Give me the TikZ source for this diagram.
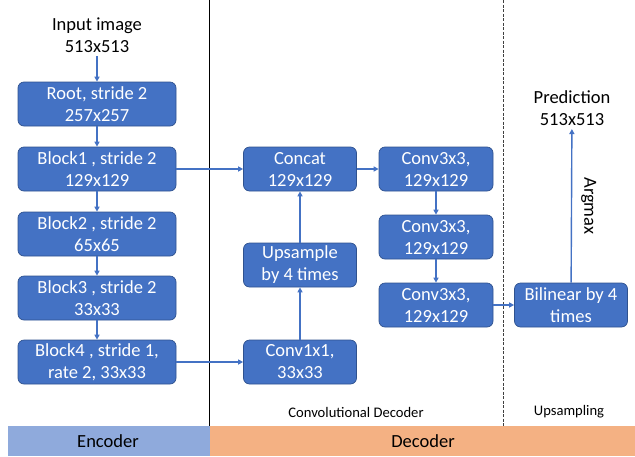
\documentclass[tikz,border=0pt]{standalone}
\usepackage{fontspec}
\setmainfont{Carlito}
\usetikzlibrary{arrows.meta}
\definecolor{boxblue}{HTML}{4472C4}
\definecolor{boxedge}{HTML}{2F528F}
\definecolor{enccol}{HTML}{8FAADC}
\definecolor{deccol}{HTML}{F4B183}
\begin{document}
\begin{tikzpicture}[x=1pt, y=-1pt,
    blk/.style={draw=boxedge, line width=0.7pt, fill=boxblue, rounded corners=6pt,
        text=white, align=center, minimum height=44pt, inner sep=1pt,
        font=\fontsize{18.5}{22}\selectfont},
    txt/.style={align=center, font=\fontsize{18.5}{22}\selectfont},
    small/.style={font=\fontsize{14.6}{16}\selectfont},
    arr/.style={-{Triangle[length=5pt,width=5pt]}, boxblue, line width=1.4pt}]
\useasboundingbox (0,0) rectangle (635,456);

% Bands at the bottom
\fill[enccol] (8,426) rectangle (210,456);
\fill[deccol] (210,426) rectangle (635,456);
\node[txt] (enc) at (108,441) {Encoder};
\node[txt] (dec) at (423,441) {Decoder};

% Dividers
\draw[line width=0.8pt] (209,0) -- (209,426);
\draw[line width=1pt, black!75, dash pattern=on 3pt off 1.5pt] (503,0) -- (503,426);
\node[small] (convdec) at (356,412) {Convolutional Decoder};
\node[small] (upsamp) at (569,412) {Upsampling};

% Encoder
\node[txt] (input) at (97,35) {Input image\\513x513};
\foreach \name/\y/\label in {root/104/{Root, stride 2\\257x257},
        block1/169/{Block1 , stride 2\\129x129},
        block2/234/{Block2 , stride 2\\65x65},
        block3/298/{Block3 , stride 2\\33x33},
        block4/362/{Block4 , stride 1,\\rate 2, 33x33}}
    \node[blk, minimum width=158pt] (\name) at (97,\y) {\label};

% Decoder
\node[blk, minimum width=113pt] (concat) at (300,169) {Concat\\129x129};
\node[blk, minimum width=113pt] (upsample) at (300,265) {Upsample\\by 4 times};
\node[blk, minimum width=113pt] (conv1) at (300,362) {Conv1x1,\\33x33};
\node[blk, minimum width=114pt] (conva) at (436,169) {Conv3x3,\\129x129};
\node[blk, minimum width=114pt] (convb) at (436,237) {Conv3x3,\\129x129};
\node[blk, minimum width=114pt] (convc) at (436,305) {Conv3x3,\\129x129};

% Upsampling
\node[blk, minimum width=113pt] (bilinear) at (571,305) {Bilinear by 4\\times};
\node[txt] (pred) at (572,108) {Prediction\\513x513};

% Connectors
\foreach \a/\b in {input/root, root/block1, block1/block2, block2/block3, block3/block4,
        block1/concat, block4/conv1, conv1/upsample, upsample/concat,
        concat/conva, conva/convb, convb/convc, convc/bilinear}
    \draw[arr] (\a) -- (\b);
\draw[arr] (bilinear) -- node[midway, anchor=south, rotate=-90, black, inner sep=9pt,
    font=\fontsize{18.5}{22}\selectfont] (argmax) {Argmax} (pred);
\end{tikzpicture}
\end{document}
